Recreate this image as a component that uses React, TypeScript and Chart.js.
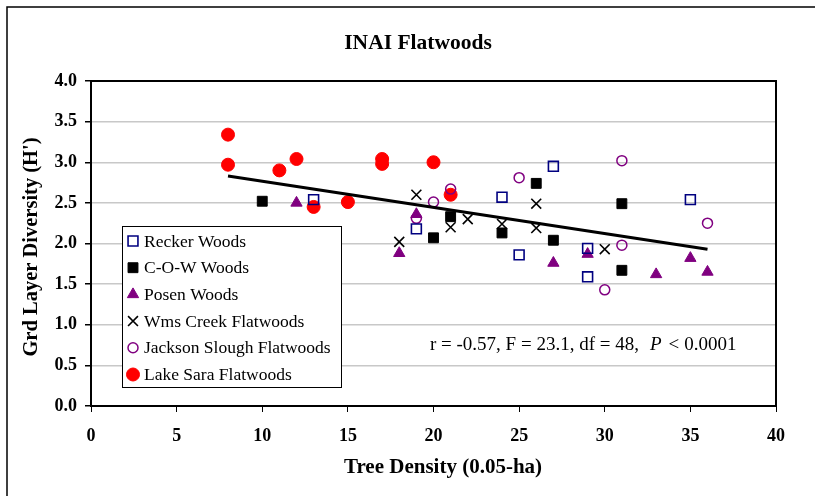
import React, { useEffect, useRef } from "react";
import { Chart, registerables } from "chart.js";

Chart.register(...registerables);

const chartTitle = "INAI Flatwoods";
const xTitle = "Tree Density (0.05-ha)";
const yTitle = "Grd Layer Diversity (H')";

const reckerX = [13, 19, 24, 25, 27, 29, 29, 35];
const reckerY = [2.54, 2.18, 2.57, 1.86, 2.95, 1.94, 1.59, 2.54];
const cowX = [10, 20, 21, 24, 26, 27, 31, 31];
const cowY = [2.52, 2.07, 2.33, 2.13, 2.74, 2.04, 2.49, 1.67];
const posenX = [12, 18, 19, 27, 29, 33, 35, 36];
const posenY = [2.5, 1.88, 2.36, 1.76, 1.87, 1.62, 1.82, 1.65];
const wmsX = [18, 19, 21, 22, 24, 26, 26, 30];
const wmsY = [2.02, 2.6, 2.2, 2.3, 2.24, 2.49, 2.19, 1.93];
const jacksonX = [19, 20, 21, 25, 30, 31, 31, 36];
const jacksonY = [2.31, 2.51, 2.67, 2.81, 1.43, 3.02, 1.98, 2.25];
const lakeX = [8, 8, 11, 12, 13, 15, 17, 17, 20, 21];
const lakeY = [3.34, 2.97, 2.9, 3.04, 2.45, 2.51, 3.04, 2.98, 3.0, 2.6];
const trendX = [8, 36];
const trendY = [2.83, 1.93];

const seriesNames = [
  "Recker Woods",
  "C-O-W Woods",
  "Posen Woods",
  "Wms Creek Flatwoods",
  "Jackson Slough Flatwoods",
  "Lake Sara Flatwoods",
];
const statsText = ["r = -0.57, F = 23.1, df = 48,", "P", "<", "0.0001"];

const SERIF = '"Liberation Serif", "Times New Roman", serif';

const pts = (xs: number[], ys: number[]) => xs.map((x, i) => ({ x, y: ys[i] }));

type Marker = {
  style: string;
  radius: number;
  bg: string;
  border: string;
  bw: number;
};

const markers: Marker[] = [
  { style: "rect", radius: 7, bg: "rgba(0,0,0,0)", border: "#000080", bw: 1.6 },
  { style: "rect", radius: 7, bg: "#000000", border: "#000000", bw: 1 },
  { style: "triangle", radius: 6.5, bg: "#800080", border: "#800080", bw: 1 },
  { style: "crossRot", radius: 7, bg: "#000000", border: "#000000", bw: 1.6 },
  { style: "circle", radius: 5, bg: "rgba(0,0,0,0)", border: "#800080", bw: 1.5 },
  { style: "circle", radius: 6.5, bg: "#ff0000", border: "#ff0000", bw: 1 },
];

function drawMarker(ctx: CanvasRenderingContext2D, m: Marker, x: number, y: number) {
  ctx.save();
  ctx.lineWidth = m.bw;
  ctx.strokeStyle = m.border;
  ctx.fillStyle = m.bg;
  ctx.beginPath();
  if (m.style === "rect") {
    const h = m.radius * Math.SQRT1_2;
    ctx.rect(x - h, y - h, 2 * h, 2 * h);
    ctx.fill();
    ctx.stroke();
  } else if (m.style === "triangle") {
    const r = m.radius;
    ctx.moveTo(x, y - r);
    ctx.lineTo(x + r * 0.866, y + r * 0.5);
    ctx.lineTo(x - r * 0.866, y + r * 0.5);
    ctx.closePath();
    ctx.fill();
    ctx.stroke();
  } else if (m.style === "crossRot") {
    const h = m.radius * Math.SQRT1_2;
    ctx.moveTo(x - h, y - h);
    ctx.lineTo(x + h, y + h);
    ctx.moveTo(x + h, y - h);
    ctx.lineTo(x - h, y + h);
    ctx.stroke();
  } else {
    ctx.arc(x, y, m.radius, 0, Math.PI * 2);
    ctx.fill();
    ctx.stroke();
  }
  ctx.restore();
}

const decorPlugin = {
  id: "decor",
  beforeDraw(chart: any) {
    const ctx = chart.ctx as CanvasRenderingContext2D;
    ctx.save();
    ctx.fillStyle = "#ffffff";
    ctx.fillRect(0, 0, chart.width, chart.height);
    ctx.strokeStyle = "#000000";
    ctx.lineWidth = 1.5;
    ctx.beginPath();
    ctx.moveTo(7, chart.height);
    ctx.lineTo(7, 7);
    ctx.lineTo(chart.width, 7);
    ctx.stroke();
    ctx.restore();
  },
  afterDraw(chart: any) {
    const ctx = chart.ctx as CanvasRenderingContext2D;
    const a = chart.chartArea;
    ctx.save();
    // plot border
    ctx.strokeStyle = "#000000";
    ctx.lineWidth = 2;
    ctx.strokeRect(a.left, a.top, a.right - a.left, a.bottom - a.top);

    // title
    ctx.fillStyle = "#000000";
    ctx.textAlign = "center";
    ctx.textBaseline = "middle";
    ctx.font = `bold 21.5px ${SERIF}`;
    ctx.fillText(chartTitle, 418, 43);

    // x title
    ctx.font = `bold 21px ${SERIF}`;
    ctx.fillText(xTitle, 443, 468);

    // y title
    ctx.save();
    ctx.translate(32, 247);
    ctx.rotate(-Math.PI / 2);
    ctx.font = `bold 20.5px ${SERIF}`;
    ctx.fillText(yTitle, 0, 0);
    ctx.restore();

    // legend
    const lx = a.left + 31;
    const ly = a.top + 145;
    ctx.fillStyle = "#ffffff";
    ctx.fillRect(lx, ly, 219, 161);
    ctx.strokeStyle = "#000000";
    ctx.lineWidth = 1;
    ctx.strokeRect(lx + 0.5, ly + 0.5, 219, 161);
    ctx.font = `17.5px ${SERIF}`;
    ctx.textAlign = "left";
    ctx.textBaseline = "middle";
    seriesNames.forEach((name, i) => {
      const cy = ly + 15 + i * 26.7;
      drawMarker(ctx, markers[i], lx + 11, cy);
      ctx.fillStyle = "#000000";
      ctx.fillText(name, lx + 22, cy + 1);
    });

    // stats annotation
    let tx = 430;
    const ty = 345;
    const gaps = [11, 7, 5, 0];
    ctx.fillStyle = "#000000";
    statsText.forEach((seg, i) => {
      ctx.font = i === 1 ? `italic 19px ${SERIF}` : `19px ${SERIF}`;
      ctx.fillText(seg, tx, ty);
      tx += ctx.measureText(seg).width + gaps[i];
    });
    ctx.restore();
  },
};

export default function App() {
  const ref = useRef<HTMLCanvasElement | null>(null);

  useEffect(() => {
    if (!ref.current) return;
    const mk = (i: number, label: string, data: any[]) => ({
      type: "scatter" as const,
      label,
      data,
      pointStyle: markers[i].style,
      pointRadius: markers[i].radius,
      pointHoverRadius: markers[i].radius,
      pointBackgroundColor: markers[i].bg,
      pointBorderColor: markers[i].border,
      pointBorderWidth: markers[i].bw,
      showLine: false,
    });
    const chart = new Chart(ref.current, {
      type: "scatter",
      data: {
        datasets: [
          {
            type: "line",
            label: "trend",
            data: pts(trendX, trendY),
            borderColor: "#000000",
            borderWidth: 3,
            pointRadius: 0,
            fill: false,
          } as any,
          mk(0, seriesNames[0], pts(reckerX, reckerY)),
          mk(1, seriesNames[1], pts(cowX, cowY)),
          mk(2, seriesNames[2], pts(posenX, posenY)),
          mk(3, seriesNames[3], pts(wmsX, wmsY)),
          mk(4, seriesNames[4], pts(jacksonX, jacksonY)),
          mk(5, seriesNames[5], pts(lakeX, lakeY)),
        ],
      },
      options: {
        responsive: false,
        animation: false,
        layout: { padding: { left: 0, top: 81, right: 39, bottom: 0 } },
        plugins: {
          legend: { display: false },
          title: { display: false },
          tooltip: { enabled: false },
        },
        scales: {
          x: {
            type: "linear",
            min: 0,
            max: 40,
            afterFit: (s: any) => {
              s.height = 90;
            },
            ticks: {
              stepSize: 5,
              padding: 14,
              color: "#000000",
              font: { family: SERIF, size: 18, weight: "bold" },
            },
            grid: {
              drawOnChartArea: false,
              tickColor: "#000000",
              tickLength: 6,
            },
            border: { display: true, color: "#000000", width: 2 },
          },
          y: {
            type: "linear",
            min: 0,
            max: 4,
            afterFit: (s: any) => {
              s.width = 91;
            },
            ticks: {
              stepSize: 0.5,
              padding: 8,
              color: "#000000",
              font: { family: SERIF, size: 18, weight: "bold" },
              callback: (v: any) => Number(v).toFixed(1),
            },
            grid: {
              color: "#c8c8c8",
              lineWidth: 1.5,
              tickColor: "#000000",
              tickLength: 6,
            },
            border: { display: true, color: "#000000", width: 2 },
          },
        },
      } as any,
      plugins: [decorPlugin],
    });
    return () => chart.destroy();
  }, []);

  return (
    <div style={{ position: "absolute", left: 0, top: 0, width: 815, height: 496 }}>
      <canvas ref={ref} width={815} height={496} />
    </div>
  );
}
